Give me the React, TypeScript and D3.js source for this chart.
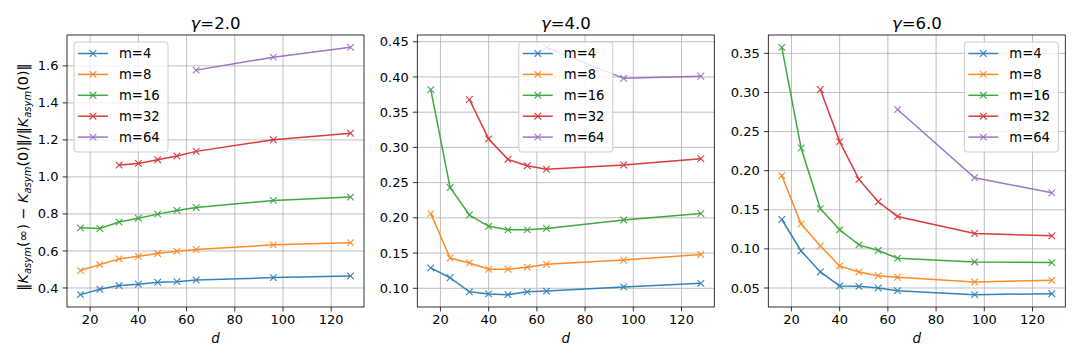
import React from "react";
import * as d3 from "d3";

const dims = [16, 24, 32, 40, 48, 56, 64, 96, 128];
const seriesNames = ["m=4", "m=8", "m=16", "m=32", "m=64"];
const colors = ["#1f77b4", "#ff7f0e", "#2ca02c", "#d62728", "#9467bd"];
const gammas = ["2.0", "4.0", "6.0"];

// null = no run for that d
const g2m4 = [0.364, 0.393, 0.413, 0.42, 0.431, 0.434, 0.443, 0.456, 0.465];
const g2m8 = [0.494, 0.526, 0.557, 0.571, 0.586, 0.599, 0.608, 0.633, 0.645];
const g2m16 = [0.725, 0.721, 0.756, 0.777, 0.799, 0.819, 0.835, 0.873, 0.891];
const g2m32 = [null, null, 1.064, 1.073, 1.093, 1.113, 1.138, 1.201, 1.236];
const g2m64 = [null, null, null, null, null, null, 1.577, 1.647, 1.7];

const g4m4 = [0.129, 0.115, 0.095, 0.092, 0.091, 0.095, 0.096, 0.102, 0.107];
const g4m8 = [0.206, 0.143, 0.136, 0.127, 0.127, 0.13, 0.134, 0.14, 0.148];
const g4m16 = [0.382, 0.243, 0.204, 0.188, 0.183, 0.183, 0.185, 0.197, 0.206];
const g4m32 = [null, null, 0.368, 0.312, 0.283, 0.274, 0.269, 0.275, 0.284];
const g4m64 = [null, null, null, null, null, null, 0.442, 0.398, 0.401];

const g6m4 = [0.1376, 0.0974, 0.0705, 0.0526, 0.0521, 0.05, 0.0466, 0.0415, 0.0427];
const g6m8 = [0.1936, 0.132, 0.1038, 0.0782, 0.0705, 0.0658, 0.0637, 0.0577, 0.0598];
const g6m16 = [0.3577, 0.229, 0.1513, 0.1244, 0.1051, 0.0979, 0.088, 0.0833, 0.0825];
const g6m32 = [null, null, 0.3038, 0.2372, 0.1889, 0.1603, 0.1415, 0.1197, 0.1167];
const g6m64 = [null, null, null, null, null, null, 0.2782, 0.191, 0.1718];

const xTicks = [20, 40, 60, 80, 100, 120];
const yTicks2 = [0.4, 0.6, 0.8, 1.0, 1.2, 1.4, 1.6];
const yTicks4 = [0.1, 0.15, 0.2, 0.25, 0.3, 0.35, 0.4, 0.45];
const yTicks6 = [0.05, 0.1, 0.15, 0.2, 0.25, 0.3, 0.35];

const panels = [
  { gamma: gammas[0], series: [g2m4, g2m8, g2m16, g2m32, g2m64], ticks: yTicks2, fmt: ".1f", left: 67, legend: "left" },
  { gamma: gammas[1], series: [g4m4, g4m8, g4m16, g4m32, g4m64], ticks: yTicks4, fmt: ".2f", left: 417.3, legend: "center" },
  { gamma: gammas[2], series: [g6m4, g6m8, g6m16, g6m32, g6m64], ticks: yTicks6, fmt: ".2f", left: 768.3, legend: "right" },
];

const W = 297;
const TOP = 35;
const BOTTOM = 307;
const FONT = "DejaVu Sans";

function XMark({ x, y, color, s = 3.3 }: { x: number; y: number; color: string; s?: number }) {
  return (
    <g stroke={color} strokeWidth={1.1}>
      <line x1={x - s} y1={y - s} x2={x + s} y2={y + s} />
      <line x1={x - s} y1={y + s} x2={x + s} y2={y - s} />
    </g>
  );
}

function Panel({ p }: { p: (typeof panels)[number] }) {
  const x = d3.scaleLinear().domain([10.4, 133.6]).range([p.left, p.left + W]);
  const all = p.series.flat().filter((v) => v != null) as number[];
  const [lo, hi] = d3.extent(all) as [number, number];
  const pad = (hi - lo) * 0.05;
  const y = d3.scaleLinear().domain([lo - pad, hi + pad]).range([BOTTOM, TOP]);
  const fmt = d3.format(p.fmt);
  const line = d3
    .line<[number, number | null]>()
    .defined((d) => d[1] != null)
    .x((d) => x(d[0]))
    .y((d) => y(d[1] as number));

  const lw = 94;
  const lh = 110;
  let lx = p.left + 7;
  if (p.legend === "center") lx = p.left + W / 2 - lw / 2;
  if (p.legend === "right") lx = p.left + W - 7 - lw;
  const ly = TOP + 7;

  return (
    <g fontFamily={FONT}>
      {/* grid */}
      {xTicks.map((t) => (
        <line key={"gx" + t} x1={x(t)} x2={x(t)} y1={TOP} y2={BOTTOM} stroke="#b0b0b0" strokeWidth={0.8} />
      ))}
      {p.ticks.map((t) => (
        <line key={"gy" + t} x1={p.left} x2={p.left + W} y1={y(t)} y2={y(t)} stroke="#b0b0b0" strokeWidth={0.8} />
      ))}
      {/* series */}
      {p.series.map((vals, i) => {
        const pts = dims.map((d, j) => [d, vals[j]] as [number, number | null]);
        return (
          <g key={i} opacity={0.9}>
            <path d={line(pts) || ""} fill="none" stroke={colors[i]} strokeWidth={1.5} />
            {pts
              .filter((d) => d[1] != null)
              .map((d, j) => (
                <XMark key={j} x={x(d[0])} y={y(d[1] as number)} color={colors[i]} />
              ))}
          </g>
        );
      })}
      {/* frame */}
      <rect x={p.left} y={TOP} width={W} height={BOTTOM - TOP} fill="none" stroke="#000" strokeWidth={0.8} />
      {/* x ticks */}
      {xTicks.map((t) => (
        <g key={"tx" + t}>
          <line x1={x(t)} x2={x(t)} y1={BOTTOM} y2={BOTTOM + 4.4} stroke="#000" strokeWidth={0.8} />
          <text x={x(t)} y={BOTTOM + 16.5} fontSize={13} textAnchor="middle" fill="#000">
            {t}
          </text>
        </g>
      ))}
      {/* y ticks */}
      {p.ticks.map((t) => (
        <g key={"ty" + t}>
          <line x1={p.left - 4.4} x2={p.left} y1={y(t)} y2={y(t)} stroke="#000" strokeWidth={0.8} />
          <text x={p.left - 8.5} y={y(t)} dy="0.35em" fontSize={13} textAnchor="end" fill="#000">
            {fmt(t)}
          </text>
        </g>
      ))}
      {/* title */}
      <text x={p.left + W / 2} y={TOP - 6} fontSize={16.5} textAnchor="middle" fill="#000">
        <tspan fontStyle="italic">γ</tspan>=
        {p.gamma}
      </text>
      {/* x label */}
      <text x={p.left + W / 2} y={343} fontSize={13.5} textAnchor="middle" fontStyle="italic" fill="#000">
        d
      </text>
      {/* legend */}
      <g>
        <rect x={lx} y={ly} width={lw} height={lh} rx={3} fill="#fff" fillOpacity={0.8} stroke="#cccccc" strokeWidth={1} />
        {seriesNames.map((n, i) => {
          const cy = ly + 11.5 + i * 20.9;
          return (
            <g key={n}>
              <g opacity={0.9}>
                <line x1={lx + 4} x2={lx + 34} y1={cy} y2={cy} stroke={colors[i]} strokeWidth={1.5} />
                <XMark x={lx + 19} y={cy} color={colors[i]} />
              </g>
              <text x={lx + 45} y={cy} dy="0.35em" fontSize={13.2} fill="#000">
                {n}
              </text>
            </g>
          );
        })}
      </g>
    </g>
  );
}

export default function App() {
  const sub = { fontSize: 10, fontStyle: "italic" as const };
  return (
    <svg
      width={1080}
      height={360}
      style={{ position: "absolute", left: 0, top: 0, background: "#fff" }}
    >
      <rect width={1080} height={360} fill="#fff" />
      {panels.map((p) => (
        <Panel key={p.gamma} p={p} />
      ))}
      <text
        transform={`translate(28,${(TOP + BOTTOM) / 2 + 6}) rotate(-90)`}
        textAnchor="middle"
        fontFamily={FONT}
        fontSize={14.3}
        fill="#000"
      >
        ‖<tspan fontStyle="italic">K</tspan>
        <tspan {...sub} dy={3}>asym</tspan>
        <tspan dy={-3}>(∞) − </tspan>
        <tspan fontStyle="italic">K</tspan>
        <tspan {...sub} dy={3}>asym</tspan>
        <tspan dy={-3}>(0)‖/‖</tspan>
        <tspan fontStyle="italic">K</tspan>
        <tspan {...sub} dy={3}>asym</tspan>
        <tspan dy={-3}>(0)‖</tspan>
      </text>
    </svg>
  );
}
